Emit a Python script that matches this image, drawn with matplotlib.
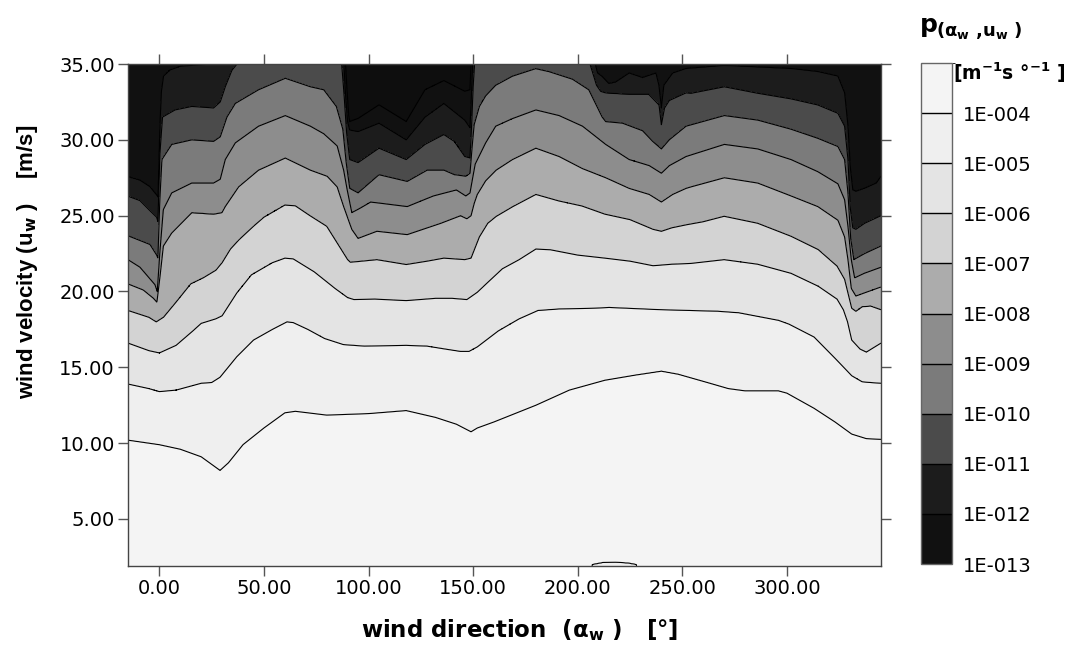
import numpy as np
import matplotlib
matplotlib.use('Agg')
import matplotlib.pyplot as plt
from matplotlib.colors import ListedColormap, BoundaryNorm
import matplotlib.colorbar as mcolorbar

plt.rcParams['font.family'] = ['DejaVu Sans']
plt.rcParams['mathtext.fontset'] = 'dejavusans'
plt.rcParams['contour.negative_linestyle'] = 'solid'

# iso-lines: wind direction [deg] -> wind velocity [m/s]
# one line per level p = 1E-004 ... 1E-013 (velocities above 35 are off the chart)
L4_x = [-15, 0, 10, 20, 25, 29, 33, 40, 50, 60, 65, 80, 100, 118, 132, 142, 149, 152, 160, 180,
        196, 213, 228, 240, 248, 262, 272, 280, 296, 300, 313, 323, 331, 338, 345]
L4_y = [10.2, 9.9, 9.6, 9.1, 8.6, 8.2, 8.7, 9.9, 11.0, 12.0, 12.1, 11.85, 11.95, 12.15, 11.7, 11.25, 10.75, 11.0, 11.4, 12.5,
        13.5, 14.15, 14.5, 14.75, 14.55, 14.0, 13.6, 13.45, 13.45, 13.3, 12.3, 11.4, 10.6, 10.3, 10.25]

# small closed piece of the 1E-004 line at the bottom edge
L4low_x = [-15, 205, 207, 212, 218, 224, 228, 230, 345]
L4low_y = [0.0, 0.0, 1.99, 2.12, 2.14, 2.09, 1.99, 0.0, 0.0]

L5_x = [-15, -5, 0, 8, 20, 25, 29, 37, 45, 54, 61, 64, 71, 79, 88, 98, 118, 128, 137, 144,
        148, 152, 162, 172, 181, 191, 208, 215, 240, 267, 277, 296, 301, 313, 323, 331, 336, 340, 345]
L5_y = [13.9, 13.6, 13.4, 13.5, 13.95, 14.0, 14.35, 15.7, 16.8, 17.5, 18.0, 17.95, 17.5, 16.9, 16.5, 16.4, 16.45, 16.4, 16.2, 16.05,
        16.05, 16.35, 17.4, 18.2, 18.75, 18.85, 18.9, 18.95, 18.8, 18.7, 18.6, 18.1, 17.85, 17.0, 15.6, 14.45, 14.05, 14.0, 13.95]

L6_x = [-15, -5, 0, 8, 16, 20, 27, 30, 37, 44, 54, 60, 64, 74, 84, 90, 93, 103, 118, 132,
        140, 147, 152, 157, 164, 172, 180, 187, 200, 213, 225, 236, 245, 254, 270, 286, 302, 315, 324, 327,
        329, 331, 335, 338, 345]
L6_y = [16.6, 16.1, 15.95, 16.45, 17.4, 17.9, 18.2, 18.4, 19.9, 21.1, 21.9, 22.2, 22.15, 21.3, 20.2, 19.6, 19.47, 19.5, 19.4, 19.55,
        19.55, 19.47, 19.95, 20.6, 21.5, 22.1, 22.8, 22.75, 22.4, 22.2, 22.0, 21.7, 21.8, 21.85, 22.1, 21.8, 21.2, 20.35, 19.5, 18.8,
        18.0, 16.8, 16.2, 16.0, 16.6]

L7_x = [-15, -5, -1.5, 2, 8, 15, 21, 27, 30, 34, 38, 45, 50, 60, 65, 72, 80, 85, 90, 91.3,
        104, 118, 128, 136, 146, 149, 153, 157, 161, 169, 180, 191, 202, 213, 225, 236, 240, 245, 252, 260,
        270, 286, 302, 315, 324, 327.6, 329.2, 331, 333, 336, 340, 345]
L7_y = [18.75, 18.3, 18.0, 18.3, 19.3, 20.5, 20.9, 21.4, 21.9, 22.8, 23.4, 24.3, 24.9, 25.7, 25.65, 25.0, 24.3, 23.2, 22.1, 21.93,
        22.1, 21.78, 22.0, 22.2, 22.1, 22.2, 23.6, 24.5, 24.95, 25.6, 26.4, 25.97, 25.64, 25.1, 24.74, 24.1, 23.97, 24.2, 24.4, 24.6,
        24.96, 24.5, 23.64, 22.76, 21.67, 20.8, 19.9, 18.9, 18.7, 19.0, 19.05, 18.8]

L8_x = [-15, -7.7, -2.9, -1.2, 0.3, 1.9, 5.9, 15.5, 25.9, 29.9, 31.5, 37.9, 47.4, 60.2, 72.2, 80.2, 85, 88.1, 92, 95,
        104, 118.5, 134.6, 144, 147, 149, 150.5, 152, 156, 161, 168.8, 180, 191.1, 202.3, 213.4, 224.6, 234.2, 240, 245.4, 251.8,
        254.2, 270.1, 286.1, 302, 314.8, 324.4, 327.6, 329.2, 330.8, 333, 337, 345]
L8_y = [20.5, 20.1, 19.56, 19.3, 21.0, 23.0, 23.86, 25.2, 25.1, 25.2, 25.6, 26.9, 28.0, 28.8, 28.0, 27.6, 26.9, 25.6, 24.1, 23.5,
        23.97, 23.75, 24.5, 25.0, 24.8, 25.0, 25.8, 26.4, 27.3, 28.0, 28.7, 29.45, 28.9, 28.1, 27.5, 26.8, 26.4, 25.9, 26.4, 26.8,
        26.9, 27.5, 27.15, 26.3, 25.6, 24.7, 23.6, 22.1, 20.2, 19.7, 19.9, 20.3]

L9_x = [-15, -9.3, -2.1, -1.0, 0.2, 1.9, 5.9, 15.5, 25.9, 29.1, 31.5, 36.3, 47.4, 60.2, 72.2, 78.6, 85, 88.1, 89.8, 92,
        96, 101, 118.5, 131, 142, 146.5, 148.5, 149.8, 151, 156, 160.8, 168.8, 180, 191.1, 202.3, 213.4, 224.6, 234.2, 240, 243.8,
        251.8, 270.1, 286.1, 302, 314.8, 324.4, 327.6, 329.2, 330.8, 332.4, 337, 345]
L9_y = [22.1, 21.6, 20.44, 20.0, 22.5, 25.4, 26.5, 27.15, 27.15, 27.4, 28.7, 29.8, 30.9, 31.6, 30.9, 30.4, 29.6, 28.0, 26.7, 25.2,
        25.5, 25.9, 25.6, 26.3, 26.7, 26.3, 26.5, 27.5, 28.4, 29.8, 30.9, 31.4, 31.97, 31.6, 30.9, 29.7, 28.7, 28.3, 27.8, 28.3,
        28.9, 29.7, 29.4, 28.7, 27.9, 27.1, 26.05, 24.3, 22.1, 20.9, 21.2, 21.6]

L10_x = [-15, -4.5, -1.3, -0.7, 0.2, 1.2, 5.9, 15.5, 25.9, 29.1, 32.3, 36.3, 47.4, 60.2, 72.2, 78.6, 84.6, 87.7, 89.3, 91,
         95, 105, 118.5, 128, 136, 141, 146.5, 148.5, 149.5, 150.5, 153, 156, 160.8, 168.8, 179.9, 186.3, 197.5, 205.3, 208.5, 211.7,
         213.4, 221.4, 231, 235.8, 240, 243.8, 251.8, 254.2, 270.1, 286.1, 302, 314.8, 324.4, 327.6, 329.2, 330.5, 332, 337.2, 345]
L10_y = [23.67, 23.1, 22.4, 22.2, 26.0, 28.7, 29.7, 30.0, 29.9, 30.2, 31.5, 32.4, 33.3, 34.06, 33.5, 33.3, 32.2, 30.7, 28.5, 26.8,
         26.5, 27.7, 27.26, 28.0, 28.0, 27.7, 27.6, 27.8, 29.5, 31.0, 32.2, 32.9, 33.6, 34.2, 34.7, 34.5, 34.0, 33.3, 32.4, 31.5,
         31.2, 31.1, 30.6, 29.9, 29.4, 30.0, 30.9, 30.99, 31.6, 31.3, 30.7, 30.1, 29.56, 28.7, 26.5, 23.5, 22.1, 22.5, 23.0]

L11_x = [-15, -9.3, -4.5, -1.3, -0.7, 0.2, 1.5, 7.5, 15.5, 25.9, 29.1, 31.5, 34.7, 37.1, 40, 60, 80, 87.0, 88.3, 89.5,
         91, 95, 105, 118, 127, 136, 141, 146, 148.5, 149.3, 150, 150.8, 155, 200, 205, 207, 209, 211, 213.4, 224.6,
         234, 238.9, 240, 241.5, 243.8, 251.8, 254.2, 270.1, 286.1, 302, 314.8, 324.4, 327.6, 329.2, 330.3, 331.5, 333, 337.2, 345]
L11_y = [26.29, 26.0, 25.33, 24.9, 24.6, 29.0, 31.5, 31.97, 32.2, 32.1, 32.5, 33.5, 34.6, 35.0, 35.8, 36.0, 36.0, 35.3, 33.0, 30.5,
         28.7, 28.5, 29.45, 28.7, 29.7, 30.35, 29.9, 28.9, 28.8, 31.0, 33.5, 35.3, 36.0, 36.0, 35.4, 34.5, 33.6, 33.2, 33.1, 33.0,
         33.0, 32.3, 31.0, 32.1, 32.6, 33.1, 33.07, 33.5, 33.07, 32.7, 32.3, 31.75, 30.9, 28.7, 25.5, 24.2, 24.1, 24.5, 25.0]

L12_x = [-15, -9.3, -4.5, -1.0, -0.6, 0.3, 1.0, 2.0, 5, 10, 20, 28, 33, 40, 85, 88.0, 89.0, 90.0, 91, 95,
         105, 118, 127, 136, 146, 148.5, 149.2, 149.8, 151, 200, 206, 208, 209.5, 211.7, 214.9, 218.1, 224.6, 231, 237.4, 238.8,
         240, 241.2, 245.4, 251.8, 270.1, 286.1, 302, 314.8, 324.4, 327.6, 329.2, 330.3, 331.5, 333, 337.2, 342.8, 345]
L12_y = [27.56, 27.33, 26.9, 26.3, 26.2, 31.0, 33.2, 34.2, 34.6, 34.85, 34.95, 35.0, 35.6, 36.5, 36.5, 35.5, 33.0, 31.2, 30.66, 30.55,
         31.1, 30.0, 31.5, 32.4, 31.3, 30.8, 33.0, 35.2, 36.5, 36.5, 36.0, 35.2, 34.4, 34.17, 33.7, 33.8, 34.4, 34.1, 34.4, 33.6,
         32.1, 33.6, 34.4, 34.7, 34.9, 34.8, 34.7, 34.5, 34.2, 33.1, 30.9, 28.2, 26.7, 26.6, 26.8, 27.15, 27.6]

L13_x = [-15, 85, 88.8, 89.6, 90.5, 91, 95, 105, 118, 127, 136, 146, 148.5, 149.0, 149.6, 155, 345]
L13_y = [39, 39, 35.5, 33.5, 31.6, 31.2, 31.4, 32.3, 31.2, 33.3, 33.9, 33.2, 33.3, 35.1, 37.0, 39, 39]

band_colors = ['#0e0e0e', '#111111', '#1c1c1c', '#4b4b4b', '#7b7b7b', '#8d8d8d',
               '#acacac', '#d3d3d3', '#e4e4e4', '#efefef', '#f4f4f4']
cbar_labels = ['1E-013', '1E-012', '1E-011', '1E-010', '1E-009',
               '1E-008', '1E-007', '1E-006', '1E-005', '1E-004']

# build log10(p) on a grid from the iso-line heights
iso = [(L4_x, L4_y), (L5_x, L5_y), (L6_x, L6_y), (L7_x, L7_y), (L8_x, L8_y),
       (L9_x, L9_y), (L10_x, L10_y), (L11_x, L11_y), (L12_x, L12_y), (L13_x, L13_y)]
xg = np.linspace(-15, 345, 2881)
yg = np.linspace(1.9, 35, 663)
H = np.array([np.interp(xg, lx, ly) for lx, ly in iso])
low = np.interp(xg, L4low_x, L4low_y)
vals = np.concatenate(([-4.5, -4.0, -3.0], -np.arange(4, 14), [-20.0]))
Z = np.empty((len(yg), len(xg)))
for i in range(len(xg)):
    h = np.concatenate(([low[i] - 1, low[i], 0.5 * (low[i] + H[0, i])], H[:, i], [60.0]))
    Z[:, i] = np.interp(yg, h, vals)

fig = plt.figure(figsize=(10.72, 6.52), dpi=100)
ax = fig.add_axes([128 / 1072, 1 - 566 / 652, 753 / 1072, 502 / 652])

levels = [-30] + list(range(-13, -3)) + [-2]
ax.contourf(xg, yg, Z, levels=levels, colors=band_colors)
ax.contour(xg, yg, Z, levels=np.arange(-13, -3), colors='k', linewidths=0.8,
           linestyles='solid')

ax.set_xlim(-15, 345)
ax.set_ylim(1.9, 35)
ax.set_xticks(np.arange(0, 301, 50))
ax.set_yticks(np.arange(5, 36, 5))
ax.set_xticklabels(['%.2f' % v for v in np.arange(0, 301, 50)])
ax.set_yticklabels(['%.2f' % v for v in np.arange(5, 36, 5)])
ax.tick_params(direction='out', length=7, width=1, color='#555555', labelsize=14,
               top=True, right=True, pad=2.5)
for s in ax.spines.values():
    s.set_color('#444444')
    s.set_linewidth(1)

fig.text(520 / 1072, 1 - 637 / 652, 'wind direction  (α$_{\\mathbf{w}}$ )   [°]',
         fontsize=16.5, fontweight='bold', ha='center', va='baseline')
fig.text(28 / 1072, 1 - 262 / 652, 'wind velocity (u$_{\\mathbf{w}}$ )    [m/s]',
         fontsize=16, fontweight='bold', rotation=90, ha='center', va='center',
         family=['Liberation Sans', 'DejaVu Sans'])

# legend bar
cax = fig.add_axes([921 / 1072, 1 - 564 / 652, 31 / 1072, 501 / 652])
bounds = np.arange(-13, -2)
cmap = ListedColormap(band_colors[1:])
norm = BoundaryNorm(bounds, cmap.N)
cb = mcolorbar.ColorbarBase(cax, cmap=cmap, norm=norm, boundaries=bounds,
                            ticks=np.arange(-13, -3), drawedges=True)
cb.set_ticklabels(cbar_labels)
cb.ax.tick_params(length=0, labelsize=14, pad=8)
cb.dividers.set_color('k')
cb.dividers.set_linewidth(1)
cb.outline.set_edgecolor('#666666')
cb.outline.set_linewidth(1)

fig.text(920 / 1072, 1 - 32 / 652, 'p', fontsize=18, fontweight='bold', va='baseline')
fig.text(936 / 1072, 1 - 36 / 652, '(α$_{\\mathbf{w}}$ ,u$_{\\mathbf{w}}$ )',
         fontsize=13, fontweight='bold', va='baseline')
fig.text(953 / 1072, 1 - 80 / 652, '[m$^{\\mathbf{-1}}$s °$^{\\mathbf{-1}}$ ]',
         fontsize=13.5, fontweight='bold', va='baseline')

fig.savefig('out.png', dpi=100)
